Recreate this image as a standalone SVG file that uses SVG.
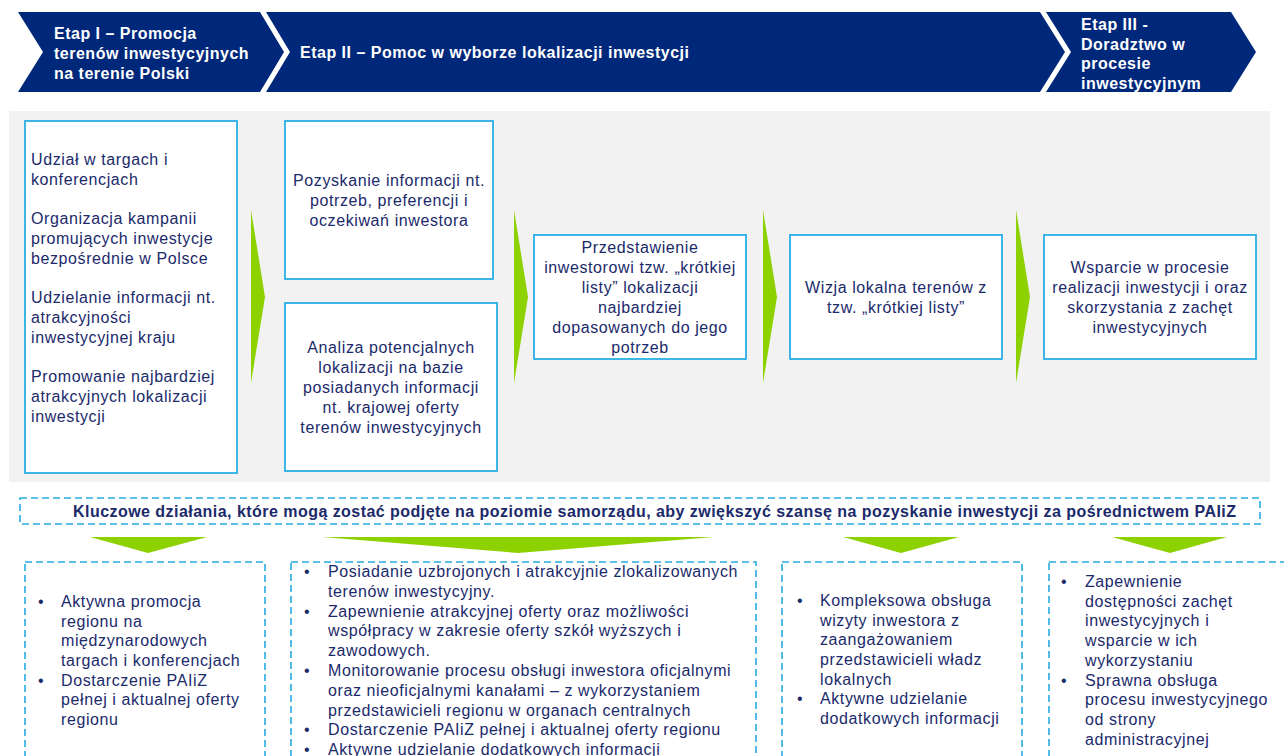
<svg xmlns="http://www.w3.org/2000/svg" width="1284" height="756" viewBox="0 0 1284 756">
<defs>
<style>
.hdr{fill:#00287A}
.htx{font-family:"Liberation Sans",Arial,sans-serif;font-size:16px;font-weight:bold;fill:#FFFFFF;letter-spacing:0.5px}
.box{fill:#FFFFFF;stroke:#29AEE6;stroke-width:1.8}
.dash{fill:none;stroke:#29AAE2;stroke-width:1.6;stroke-dasharray:7 4}
.tx{font-family:"Liberation Sans",Arial,sans-serif;font-size:16px;fill:#1B2A6B;letter-spacing:0.6px}
.c{text-anchor:middle}
.ttl{font-family:"Liberation Sans",Arial,sans-serif;font-size:16px;font-weight:bold;fill:#1B2A6B}
.grn{fill:#8DD100}
</style>
</defs>
<rect width="1284" height="756" fill="#FFFFFF"/>

<g id="header">
<g id="etap1">
<path class="hdr" d="M18,12 L260,12 L284,52 L260,92 L18,92 L43,52 Z"/>
<text class="htx"><tspan x="54" y="39">Etap I – Promocja</tspan><tspan x="54" y="59">terenów inwestycyjnych</tspan><tspan x="54" y="79">na terenie Polski</tspan></text>
</g>
<g id="etap2">
<path class="hdr" d="M266,12 L1040,12 L1065,52 L1040,92 L266,92 L290,52 Z"/>
<text class="htx" x="300" y="58">Etap II – Pomoc w wyborze lokalizacji inwestycji</text>
</g>
<g id="etap3">
<path class="hdr" d="M1046,12 L1231,12 L1256,52 L1231,92 L1046,92 L1071,52 Z"/>
<text class="htx"><tspan x="1081" y="30">Etap III -</tspan><tspan x="1081" y="50">Doradztwo w</tspan><tspan x="1081" y="69">procesie</tspan><tspan x="1081" y="89">inwestycyjnym</tspan></text>
</g>
</g>

<rect id="panel" x="9" y="111" width="1261" height="371" fill="#F2F2F2"/>

<g id="connectors">
<path class="grn" d="M251,210 L265,297 L251,383 Z"/>
<path class="grn" d="M514,210 L528,297 L514,383 Z"/>
<path class="grn" d="M763,210 L777,297 L763,383 Z"/>
<path class="grn" d="M1016,210 L1030,297 L1016,383 Z"/>
<path class="grn" d="M90,537 L207,537 L148,553 Z"/>
<path class="grn" d="M322,537 L714,537 L518,553 Z"/>
<path class="grn" d="M843,537 L959,537 L901,553 Z"/>
<path class="grn" d="M1112,537 L1227,537 L1170,553 Z"/>
</g>

<g id="node-promocja">
<rect class="box" x="25" y="121" width="212" height="352"/>
<text class="tx"><tspan x="31" y="165">Udział w targach i</tspan><tspan x="31" y="185">konferencjach</tspan><tspan x="31" y="224">Organizacja kampanii</tspan><tspan x="31" y="244">promujących inwestycje</tspan><tspan x="31" y="264">bezpośrednie w Polsce</tspan><tspan x="31" y="303">Udzielanie informacji nt.</tspan><tspan x="31" y="323">atrakcyjności</tspan><tspan x="31" y="343">inwestycyjnej kraju</tspan><tspan x="31" y="382">Promowanie najbardziej</tspan><tspan x="31" y="402">atrakcyjnych lokalizacji</tspan><tspan x="31" y="422">inwestycji</tspan></text>
</g>

<g id="node-pozyskanie">
<rect class="box" x="285" y="121" width="208" height="158"/>
<text class="tx c"><tspan x="389" y="186">Pozyskanie informacji nt.</tspan><tspan x="389" y="206">potrzeb, preferencji i</tspan><tspan x="389" y="226">oczekiwań inwestora</tspan></text>
</g>

<g id="node-analiza">
<rect class="box" x="285" y="303" width="212" height="168"/>
<text class="tx c"><tspan x="391" y="353">Analiza potencjalnych</tspan><tspan x="391" y="373">lokalizacji na bazie</tspan><tspan x="391" y="393">posiadanych informacji</tspan><tspan x="391" y="413">nt. krajowej oferty</tspan><tspan x="391" y="433">terenów inwestycyjnych</tspan></text>
</g>

<g id="node-przedstawienie">
<rect class="box" x="534" y="235" width="212" height="124"/>
<text class="tx c"><tspan x="640" y="253">Przedstawienie</tspan><tspan x="640" y="273">inwestorowi tzw. „krótkiej</tspan><tspan x="640" y="293">listy” lokalizacji</tspan><tspan x="640" y="313">najbardziej</tspan><tspan x="640" y="333">dopasowanych do jego</tspan><tspan x="640" y="353">potrzeb</tspan></text>
</g>

<g id="node-wizja">
<rect class="box" x="790" y="235" width="212" height="124"/>
<text class="tx c"><tspan x="896" y="293">Wizja lokalna terenów z</tspan><tspan x="896" y="313">tzw. „krótkiej listy”</tspan></text>
</g>

<g id="node-wsparcie">
<rect class="box" x="1044" y="235" width="212" height="124"/>
<text class="tx c"><tspan x="1150" y="273">Wsparcie w procesie</tspan><tspan x="1150" y="293">realizacji inwestycji i oraz</tspan><tspan x="1150" y="313">skorzystania z zachęt</tspan><tspan x="1150" y="333">inwestycyjnych</tspan></text>
</g>

<g id="node-kluczowe">
<rect class="dash" x="20" y="498" width="1240" height="26"/>
<text class="ttl" x="73" y="517" textLength="1163" lengthAdjust="spacing">Kluczowe działania, które mogą zostać podjęte na poziomie samorządu, aby zwiększyć szansę na pozyskanie inwestycji za pośrednictwem PAIiZ</text>
</g>

<g id="node-dzialania1">
<rect class="dash" x="25" y="562" width="240" height="210"/>
<text class="tx"><tspan x="38" y="607">•</tspan><tspan x="61" y="607">Aktywna promocja</tspan><tspan x="61" y="626.5">regionu na</tspan><tspan x="61" y="646">międzynarodowych</tspan><tspan x="61" y="666">targach i konferencjach</tspan><tspan x="38" y="685.5">•</tspan><tspan x="61" y="685.5">Dostarczenie PAIiZ</tspan><tspan x="61" y="705">pełnej i aktualnej oferty</tspan><tspan x="61" y="725">regionu</tspan></text>
</g>

<g id="node-dzialania2">
<rect class="dash" x="291" y="562" width="465" height="210"/>
<text class="tx"><tspan x="304" y="577">•</tspan><tspan x="328" y="577">Posiadanie uzbrojonych i atrakcyjnie zlokalizowanych</tspan><tspan x="328" y="596.8">terenów inwestycyjny.</tspan><tspan x="304" y="616.6">•</tspan><tspan x="328" y="616.6">Zapewnienie atrakcyjnej oferty oraz możliwości</tspan><tspan x="328" y="636.4">współpracy  w zakresie oferty szkół wyższych i</tspan><tspan x="328" y="656.2">zawodowych.</tspan><tspan x="304" y="676">•</tspan><tspan x="328" y="676">Monitorowanie procesu obsługi inwestora oficjalnymi</tspan><tspan x="328" y="695.8">oraz nieoficjalnymi kanałami – z wykorzystaniem</tspan><tspan x="328" y="715.6">przedstawicieli regionu w organach centralnych</tspan><tspan x="304" y="735.4">•</tspan><tspan x="328" y="735.4">Dostarczenie PAIiZ pełnej i aktualnej oferty regionu</tspan><tspan x="304" y="755">•</tspan><tspan x="328" y="755">Aktywne udzielanie dodatkowych informacji</tspan></text>
</g>

<g id="node-dzialania3">
<rect class="dash" x="782" y="562" width="240" height="210"/>
<text class="tx"><tspan x="797" y="606">•</tspan><tspan x="820" y="606">Kompleksowa obsługa</tspan><tspan x="820" y="625.5">wizyty inwestora z</tspan><tspan x="820" y="645">zaangażowaniem</tspan><tspan x="820" y="665">przedstawicieli władz</tspan><tspan x="820" y="684.5">lokalnych</tspan><tspan x="797" y="704">•</tspan><tspan x="820" y="704">Aktywne udzielanie</tspan><tspan x="820" y="724">dodatkowych informacji</tspan></text>
</g>

<g id="node-dzialania4">
<rect class="dash" x="1049" y="562" width="245" height="210"/>
<text class="tx"><tspan x="1061" y="587">•</tspan><tspan x="1085" y="587">Zapewnienie</tspan><tspan x="1085" y="606.5">dostępności zachęt</tspan><tspan x="1085" y="626">inwestycyjnych i</tspan><tspan x="1085" y="646">wsparcie w ich</tspan><tspan x="1085" y="665.5">wykorzystaniu</tspan><tspan x="1061" y="685.5">•</tspan><tspan x="1085" y="685.5">Sprawna obsługa</tspan><tspan x="1085" y="705">procesu inwestycyjnego</tspan><tspan x="1085" y="725">od strony</tspan><tspan x="1085" y="744.5">administracyjnej</tspan></text>
</g>
</svg>
